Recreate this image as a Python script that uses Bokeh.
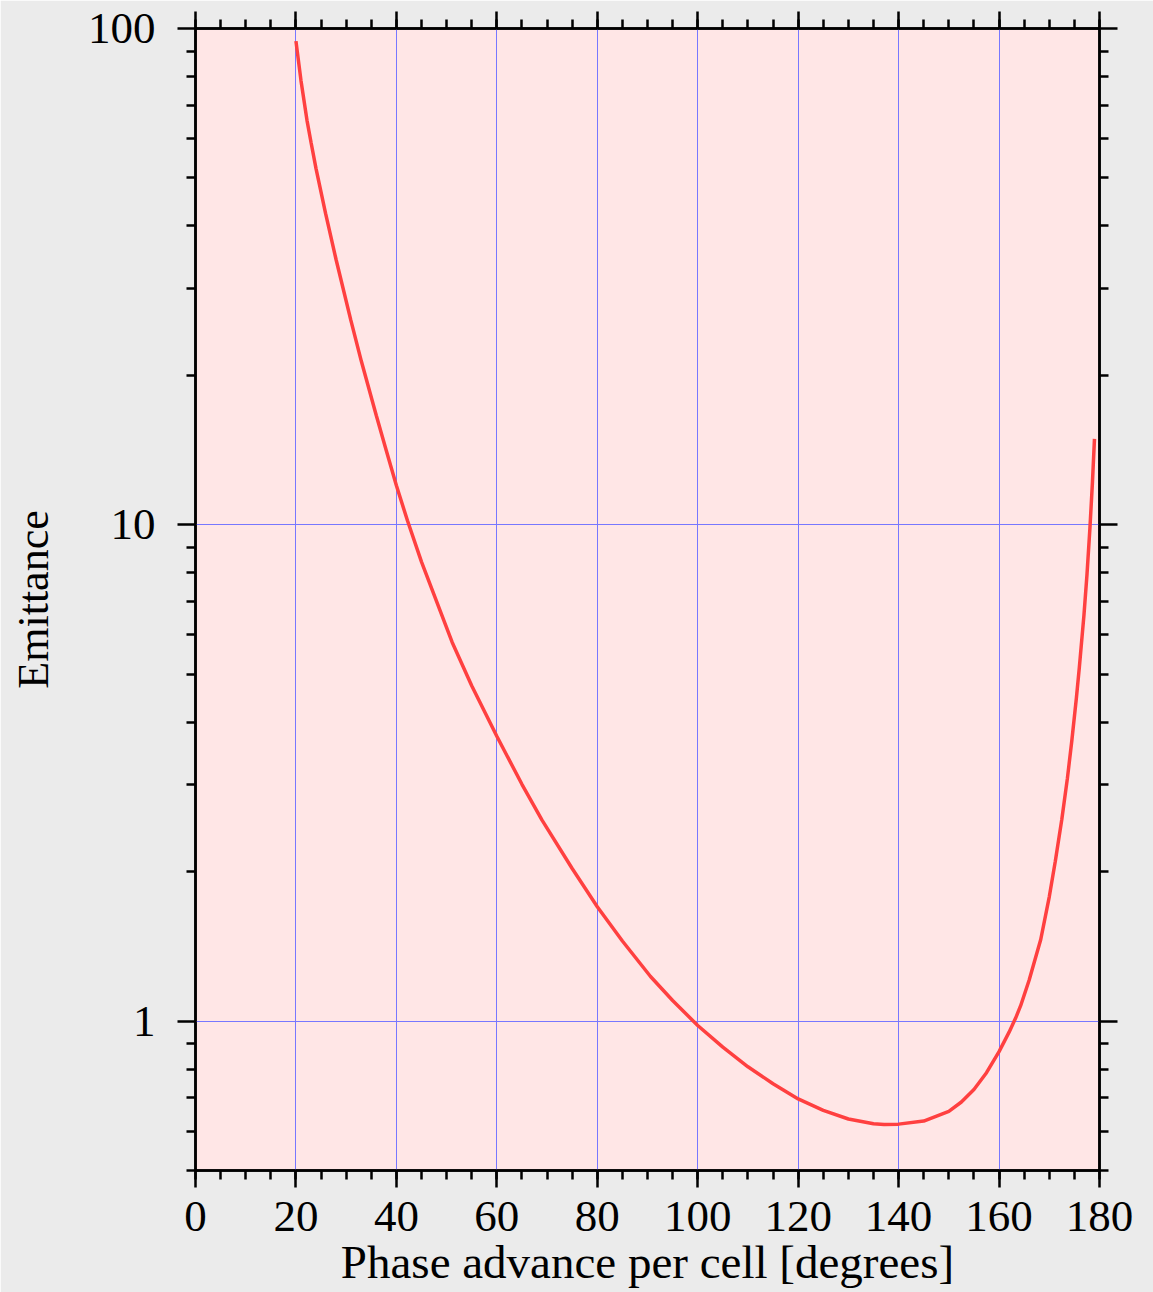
from bokeh.plotting import figure
from bokeh.models import (Range1d, LinearAxis, LogAxis, FixedTicker, BasicTickFormatter)
from bokeh.embed import file_html
from bokeh.resources import INLINE

# Data
phase_deg = [20.0, 21.0, 22.2, 23.0, 24.0, 25.9, 28.0, 30.9, 33.0, 36.0, 38.0,
             40.0, 42.2, 45.0, 51.1, 55.0, 60.0, 65.0, 69.0, 75.0, 80.0, 85.0,
             90.6, 95.0, 100.0, 105.0, 110.0, 115.0, 120.0, 125.0, 130.0, 135.0,
             137.1, 140.0, 145.0, 150.0, 152.5, 155.0, 157.5, 160.0, 162.0,
             163.3, 164.3, 166.0, 168.3, 170.0, 171.2, 172.5, 173.6, 174.5,
             175.4, 176.0, 176.9, 177.5, 178.1, 178.6, 179.0]
emittance = [94.3, 78.6, 65.3, 59.0, 52.2, 42.4, 34.2, 25.9, 21.4, 16.6, 14.1,
             12.0, 10.2, 8.42, 5.80, 4.74, 3.75, 3.00, 2.54, 2.03, 1.70, 1.45,
             1.23, 1.10, 0.980, 0.886, 0.809, 0.748, 0.697, 0.661, 0.635, 0.621,
             0.619, 0.620, 0.629, 0.658, 0.687, 0.728, 0.787, 0.868, 0.950,
             1.014, 1.074, 1.21, 1.46, 1.78, 2.10, 2.55, 3.08, 3.68,
             4.48, 5.18, 6.57, 7.92, 9.87, 12.2, 14.9]

x_major = [0, 20, 40, 60, 80, 100, 120, 140, 160, 180]
x_minor = list(range(0, 181, 5))
y_major = [1, 10, 100]
y_minor = [0.5, 0.6, 0.7, 0.8, 0.9, 2, 3, 4, 5, 6, 7, 8, 9,
           20, 30, 40, 50, 60, 70, 80, 90]

x_label = "Phase advance per cell [degrees]"
y_label = "Emittance"

FONT = "Liberation Serif"
TICK_FS = "45px"
LW = 2.5

p = figure(frame_width=904, frame_height=1142,
           x_range=Range1d(0, 180), y_range=Range1d(0.5, 100),
           y_axis_type="log", output_backend="svg", toolbar_location=None,
           min_border_left=195, min_border_top=28, min_border_right=54,
           min_border_bottom=122)

p.background_fill_color = "#ffe6e6"
p.border_fill_color = "#ebebeb"
p.outline_line_color = "black"
p.outline_line_width = LW

xt = FixedTicker(ticks=x_major, minor_ticks=x_minor)
yt = FixedTicker(ticks=y_major, minor_ticks=y_minor)

def style(ax, tick_out, minor_out):
    ax.axis_line_width = LW
    ax.axis_line_color = "black"
    ax.major_tick_line_width = LW
    ax.minor_tick_line_width = LW
    ax.major_tick_line_color = "black"
    ax.minor_tick_line_color = "black"
    ax.major_tick_out = tick_out
    ax.major_tick_in = 0
    ax.minor_tick_out = minor_out
    ax.minor_tick_in = 0
    ax.major_label_text_font = FONT
    ax.major_label_text_font_size = TICK_FS
    ax.major_label_text_color = "black"
    ax.axis_label_text_font = FONT
    ax.axis_label_text_font_size = "44px"
    ax.axis_label_text_font_style = "normal"
    ax.axis_label_text_color = "black"

xa = p.xaxis[0]
xa.ticker = xt
style(xa, 17, 9)
xa.major_label_standoff = 14
xa.axis_label = x_label
xa.axis_label_text_font_size = "47px"
xa.axis_label_standoff = 2

ya = p.yaxis[0]
ya.ticker = yt
ya.formatter = BasicTickFormatter()
style(ya, 18, 9)
ya.axis_label = y_label
ya.major_label_standoff = 22
ya.axis_label_standoff = 27

def hide_labels(ax, ticks):
    ax.major_label_overrides = {t: "" for t in ticks}
    ax.major_label_text_color = None
    ax.major_label_text_font_size = "1px"
    ax.major_label_standoff = 0

top = LinearAxis(ticker=xt)
style(top, 17, 9)
hide_labels(top, x_major)
p.add_layout(top, "above")

right = LogAxis(ticker=yt)
style(right, 18, 9)
hide_labels(right, y_major)
p.add_layout(right, "right")

p.xgrid.ticker = FixedTicker(ticks=x_major)
p.ygrid.ticker = FixedTicker(ticks=y_major)
for g in (p.xgrid[0], p.ygrid[0]):
    g.grid_line_color = "#7777ff"
    g.grid_line_width = 1
    g.grid_line_alpha = 1.0

p.line(phase_deg, emittance, line_color="#ff4040", line_width=3.5)

open("out.html", "w").write(file_html(p, INLINE))
